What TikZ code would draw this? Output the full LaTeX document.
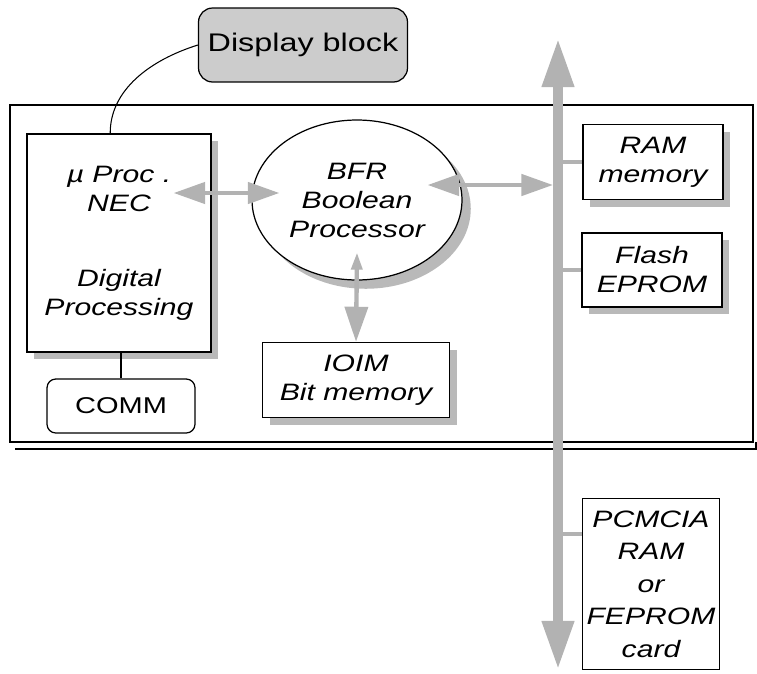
\documentclass[tikz,border=0pt]{standalone}
\usepackage{fontspec}
\setmainfont{Liberation Sans}[FakeStretch=1.27]
\usetikzlibrary{shapes.geometric,shadows,arrows.meta,calc}

\begin{document}
\begin{tikzpicture}[x=0.02cm,y=-0.02cm,
  box/.style={draw,line width=0.7pt,fill=white,align=center,inner sep=0pt,
    font=\fontsize{13.5}{16.5}\selectfont\itshape},
  shade/.style={drop shadow={shadow xshift=4pt,shadow yshift=-4pt,
    fill=gray!55,opacity=1}},
  link/.style={draw=gray!60,line width=2.5pt,
    {Triangle[length=18pt,width=12pt]}-{Triangle[length=18pt,width=12pt]}},
  stub/.style={draw=gray!60,line width=2.5pt},
  bus/.style={draw=gray!60,line width=6pt,
    {Triangle[length=28pt,width=17pt]}-{Triangle[length=28pt,width=17pt]}}]
  \useasboundingbox (0,0) rectangle (757,673);
  % board
  \draw[line width=0.8pt] (10,105) rectangle (753,442);
  \draw[line width=0.6pt] (15,449) -- (756,449) -- (756,442);
  % blocks
  \node[box,shade,minimum width=3.68cm,minimum height=4.36cm] (mu) at (119,243)
    {µ Proc .\\NEC\\[26pt]Digital\\Processing};
  \node[box,rounded corners=5pt,minimum width=2.96cm,minimum height=1.08cm,
    font=\fontsize{13}{16}\selectfont] (comm) at (121,406) {COMM};
  \node[box,rounded corners=8pt,fill=gray!40,minimum width=4.18cm,minimum height=1.48cm,
    font=\fontsize{14.5}{17}\selectfont] (disp) at (303,45) {Display block};
  \node[box,ellipse,minimum width=4.2cm,minimum height=3.2cm,
    drop shadow={shadow xshift=5pt,shadow yshift=-5pt,fill=gray!55,opacity=1}]
    (bfr) at (357,200) {BFR\\Boolean\\Processor};
  \node[box,shade,minimum width=3.74cm,minimum height=1.5cm] (ioim) at (356,380)
    {IOIM\\Bit memory};
  \node[box,shade,minimum width=2.8cm,minimum height=1.5cm] (ram) at (653,162)
    {RAM\\memory};
  \node[box,shade,minimum width=2.8cm,minimum height=1.48cm] (flash) at (652,270)
    {Flash\\EPROM};
  \node[box,minimum width=2.74cm,minimum height=3.42cm,
    font=\fontsize{13.5}{18.5}\selectfont\itshape] (pcm) at (651,584)
    {PCMCIA\\RAM\\or\\FEPROM\\card};
  % bus
  \coordinate (bustop) at (558,38);
  \coordinate (busbot) at (558,670);
  \coordinate (pin) at ($(pcm.north west)+(0,36)$);
  \draw[stub] (ram.west -| bustop) -- (ram.west);
  \draw[stub] (flash.west -| bustop) -- (flash.west);
  \draw[stub] (pin -| bustop) -- (pin);
  \draw[bus] (bustop) -- (busbot);
  % links
  \draw[link] ($(mu.east |- bfr.west)+(-38,-7)$) -- ($(bfr.west)+(28,-7)$);
  \draw[link] ($(bfr.east)+(-35,-15)$) -- ($(bfr.east -| bustop)+(-5,-15)$);
  \draw[draw=gray!60,line width=2.5pt,
    {Triangle[length=10pt,width=6pt]}-{Triangle[length=20pt,width=13pt]}]
    ($(bfr.center)+(0,52)$) -- (ioim.north);
  \draw[line width=0.6pt] (disp.west) .. controls (150,60) and (110,90) .. ([xshift=-5pt]mu.north);
  \draw[line width=0.6pt] (comm.north |- mu.south) -- (comm.north);
\end{tikzpicture}
\end{document}
